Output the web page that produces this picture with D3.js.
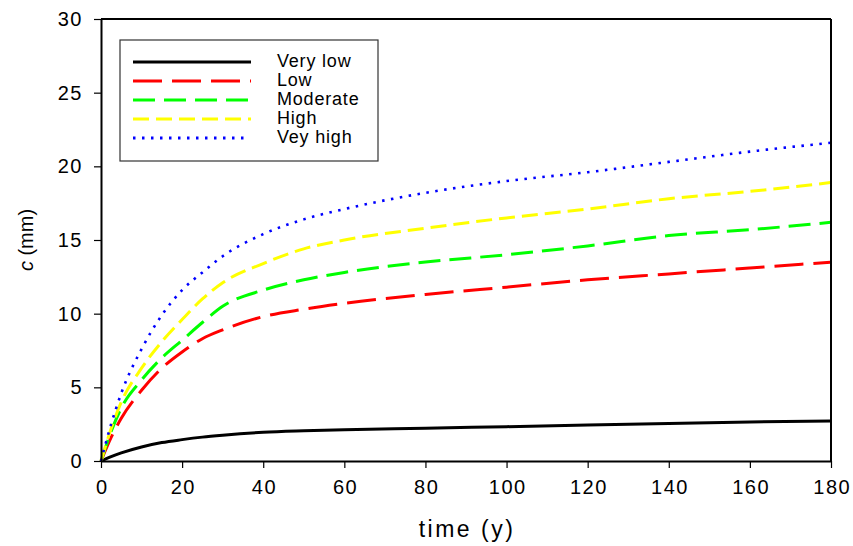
<!DOCTYPE html>
<html>
<head>
<meta charset="utf-8">
<script src="https://cdn.jsdelivr.net/npm/d3@7"></script>
<style>
  body { margin: 0; background: #fff; }
  svg text { font-family: "Liberation Sans", Arial, sans-serif; }
</style>
</head>
<body>
<div id="chart"></div>
<script>
// values
const times = [0, 2.5, 5, 10, 15, 20, 25, 30, 40, 50, 60, 80, 100, 120, 140, 160, 180];
const veryLow  = [0, 0.3, 0.55, 0.95, 1.25, 1.45, 1.62, 1.75, 1.95, 2.05, 2.12, 2.22, 2.33, 2.44, 2.55, 2.65, 2.72];
const low      = [0, 1.6, 2.9, 4.8, 6.3, 7.4, 8.3, 8.9, 9.8, 10.3, 10.7, 11.3, 11.8, 12.3, 12.7, 13.1, 13.5];
const moderate = [0, 2.0, 3.6, 5.5, 7.0, 8.2, 9.4, 10.5, 11.6, 12.3, 12.8, 13.5, 14.0, 14.6, 15.3, 15.7, 16.2];
const high     = [0, 2.2, 4.0, 6.3, 8.1, 9.6, 11.0, 12.1, 13.4, 14.4, 15.0, 15.8, 16.5, 17.1, 17.8, 18.3, 18.9];
const veyHigh  = [0, 2.5, 4.6, 7.6, 9.9, 11.6, 12.8, 13.9, 15.4, 16.4, 17.1, 18.2, 19.0, 19.6, 20.3, 21.0, 21.6];
const seriesNames = ['Very low', 'Low', 'Moderate', 'High', 'Vey high'];
const xTicks = [0, 20, 40, 60, 80, 100, 120, 140, 160, 180];
const yTicks = [0, 5, 10, 15, 20, 25, 30];

const w = 853, h = 546;
const m = {left: 101, right: 22, top: 19, bottom: 85};

const styles = [
  {color: '#000000', dash: null},
  {color: '#ff0000', dash: '29,10'},
  {color: '#00ff00', dash: '22,9'},
  {color: '#ffff00', dash: '16,7'},
  {color: '#0000ff', dash: '2.5,6.5'}
];
const allSeries = [veryLow, low, moderate, high, veyHigh];

const x = d3.scaleLinear().domain([0, 180]).range([m.left, w - m.right]);
const y = d3.scaleLinear().domain([0, 30]).range([h - m.bottom, m.top]);

const svg = d3.select('#chart').append('svg')
  .attr('width', w).attr('height', h);

const line = d3.line()
  .x((d, i) => x(times[i]))
  .y(d => y(d))
  .curve(d3.curveMonotoneX);

svg.selectAll('path.series')
  .data(allSeries)
  .enter()
  .append('path')
  .attr('class', 'series')
  .attr('d', line)
  .attr('fill', 'none')
  .attr('stroke', (d, i) => styles[i].color)
  .attr('stroke-width', (d, i) => i === 4 ? 2.6 : 3)
  .attr('stroke-dasharray', (d, i) => styles[i].dash);

// frame
svg.append('line')
  .attr('x1', x(0)).attr('x2', x(180)).attr('y1', y(30)).attr('y2', y(30))
  .attr('stroke', '#000').attr('stroke-width', 2);
svg.append('line')
  .attr('x1', x(180)).attr('x2', x(180)).attr('y1', y(0)).attr('y2', y(30))
  .attr('stroke', '#000').attr('stroke-width', 2);

const xAxis = d3.axisBottom(x).tickValues(xTicks).tickSize(7).tickPadding(12).tickSizeOuter(0);
const gx = svg.append('g')
  .attr('transform', `translate(0,${y(0)})`)
  .call(xAxis);
const yAxis = d3.axisLeft(y).tickValues(yTicks).tickSize(7).tickPadding(11).tickSizeOuter(0);
const gy = svg.append('g')
  .attr('transform', `translate(${x(0)},0)`)
  .call(yAxis);

[gx, gy].forEach(g => {
  g.select('.domain').attr('stroke', '#000').attr('stroke-width', 2);
  g.selectAll('.tick line').attr('stroke', '#000').attr('stroke-width', 1.2);
  g.selectAll('.tick text')
    .attr('fill', '#000')
    .style('font-size', '20px')
    .style('letter-spacing', '1.5px')
    .style('font-family', '"Liberation Sans", Arial, sans-serif');
});
gx.selectAll('.tick text').attr('dx', '0.75px');

svg.append('text')
  .attr('x', (x(0) + x(180)) / 2 + 1)
  .attr('y', 537)
  .attr('text-anchor', 'middle')
  .style('font-size', '23px')
  .style('letter-spacing', '2.5px')
  .text('time (y)');

const yl = svg.append('text')
  .attr('transform', `translate(33,${(y(0) + y(30)) / 2}) rotate(-90)`)
  .attr('text-anchor', 'middle')
  .style('font-size', '20px');
yl.append('tspan').style('font-style', 'italic').text('c');
yl.append('tspan').text(' (mm)');

// legend
const legend = svg.append('g');
legend.append('rect')
  .attr('x', 120).attr('y', 40).attr('width', 258).attr('height', 121)
  .attr('fill', '#fff').attr('stroke', '#333').attr('stroke-width', 1.2);

const rows = legend.selectAll('g.row')
  .data(seriesNames)
  .enter()
  .append('g')
  .attr('class', 'row')
  .attr('transform', (d, i) => `translate(0,${62 + i * 19})`);
rows.append('line')
  .attr('x1', 133).attr('x2', (d, i) => i === 4 ? 244 : 251)
  .attr('y1', 0).attr('y2', 0)
  .attr('stroke', (d, i) => styles[i].color)
  .attr('stroke-width', 3)
  .attr('stroke-dasharray', (d, i) => styles[i].dash);
rows.append('text')
  .attr('x', 277).attr('y', 5)
  .style('font-size', '18px')
  .style('letter-spacing', '0.8px')
  .text(d => d);
</script>
</body>
</html>
